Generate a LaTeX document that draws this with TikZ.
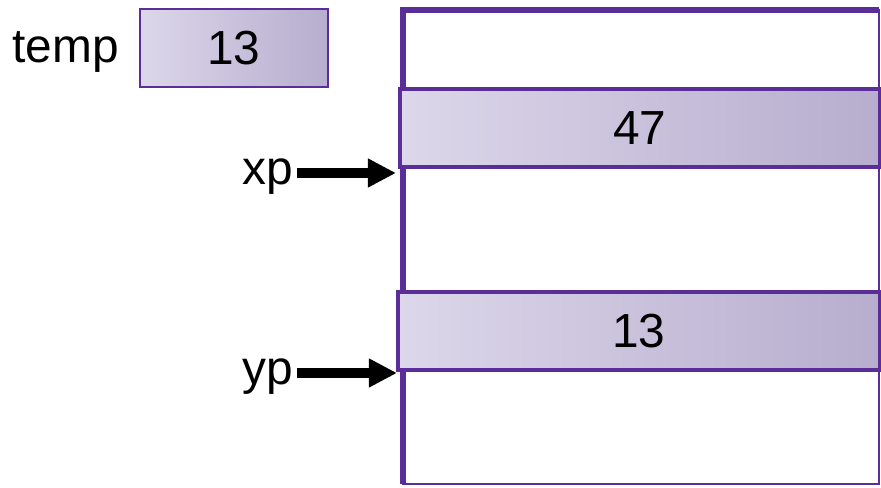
\documentclass[tikz,border=0pt]{standalone}
\usepackage{fontspec}
\setmainfont{Liberation Sans}
\usetikzlibrary{arrows.meta}

\definecolor{memline}{HTML}{5A2D98}
\definecolor{cellL}{HTML}{DCD7EA}
\definecolor{cellR}{HTML}{B7ADCE}

\tikzset{
  cell/.style={draw=memline, line width=1pt, left color=cellL, right color=cellR,
    minimum height=0.78cm, inner sep=0pt, font=\fontsize{13.6}{16}\selectfont},
  lbl/.style={font=\fontsize{13.6}{16}\selectfont, inner sep=1pt},
  ptr/.style={-{Triangle[length=0.28cm, width=0.27cm]}, line width=2.6pt, black}
}

\begin{document}
\begin{tikzpicture}[x=0.01cm, y=-0.01cm]
  \useasboundingbox (0,0) rectangle (881,488);

  % memory column
  \draw[memline, line width=0.8pt] (403,10) rectangle (879,484);
  \draw[memline, line width=1.6pt] (403,484) -- (403,10) -- (879,10);

  % temp variable
  \node[cell, minimum width=1.88cm, line width=0.7pt] (tmpval) at (234,48) {13};
  \node[lbl, anchor=base east] (temp) at (123,63) {temp};

  % the two cells
  \node[cell, minimum width=4.8cm] (xval) at (640,128) {47};
  \node[cell, minimum width=4.82cm] (yval) at (639,331) {13};

  % pointers
  \node[lbl, anchor=base east] (xp) at (297,185) {xp};
  \node[lbl, anchor=base east] (yp) at (297,385) {yp};
  \coordinate (xtip) at (396,173);
  \coordinate (ytip) at (397,373);
  \draw[ptr] (xp.east |- xtip) -- (xtip);
  \draw[ptr] (yp.east |- ytip) -- (ytip);
\end{tikzpicture}
\end{document}
